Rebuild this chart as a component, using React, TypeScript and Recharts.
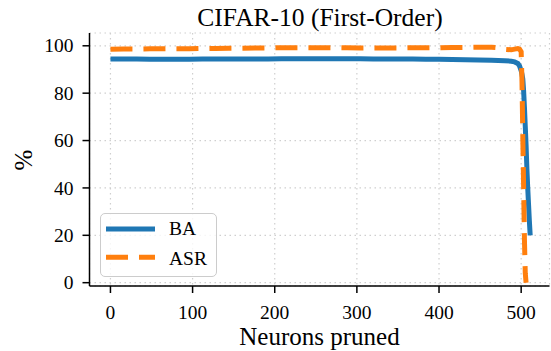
import React from "react";
import { LineChart, Line, XAxis, YAxis, CartesianGrid } from "recharts";

const neurons = [0, 16, 32, 48, 64, 80, 96, 112, 128, 144, 160, 176, 192, 208, 224, 240, 256, 272, 288, 304, 320, 336, 352, 368, 384, 400, 416, 432, 448, 464, 472, 480, 488, 492, 496, 498, 500, 501, 502, 503, 504, 505, 506, 507, 508, 509, 510, 511];
const ba = [94.4, 94.4, 94.4, 94.3, 94.3, 94.3, 94.3, 94.4, 94.4, 94.4, 94.4, 94.4, 94.4, 94.5, 94.5, 94.5, 94.5, 94.5, 94.5, 94.5, 94.4, 94.4, 94.4, 94.4, 94.3, 94.3, 94.2, 94.1, 94.0, 93.9, 93.8, 93.7, 93.5, 93.2, 92.5, 91.5, 89.5, 88, 86, 81, 74, 66, 58, 48, 40, 33, 26, 20];
const asr = [98.5, 98.6, 98.6, 98.7, 98.7, 98.8, 98.8, 98.9, 98.9, 99.0, 99.0, 99.1, 99.1, 99.2, 99.2, 99.2, 99.2, 99.2, 99.2, 99.1, 99.1, 99.1, 99.1, 99.2, 99.2, 99.2, 99.3, 99.3, 99.4, 99.4, 99.2, 98.5, 98.3, 98.6, 98.8, 98.6, 97.5, 85, 62, 40, 18, 4, 0, null, null, null, null, null];
const xTicks = [0, 100, 200, 300, 400, 500];
const yTicks = [0, 20, 40, 60, 80, 100];
const seriesNames = ["BA", "ASR"];
const colors = ["#1f77b4", "#ff7f0e"];
const title = "CIFAR-10 (First-Order)";
const xLabel = "Neurons pruned";
const yLabel = "%";

const data = neurons.map((n, i) => ({ n, ba: ba[i], asr: asr[i] }));

const FONT = "Liberation Serif";

const XTick = (props: any) => {
  const { x, y, payload } = props;
  return (
    <text x={x} y={y + 13.5} textAnchor="middle" fontFamily={FONT} fontSize={19.5} fill="#000">
      {payload.value}
    </text>
  );
};

const YTick = (props: any) => {
  const { x, y, payload } = props;
  return (
    <text x={x} y={y + 6.6} textAnchor="end" fontFamily={FONT} fontSize={19.5} fill="#000">
      {payload.value}
    </text>
  );
};

const LegendBox = () => (
  <div
    style={{
      position: "absolute",
      left: 100,
      top: 213,
      width: 117,
      height: 64,
      border: "1.5px solid #cccccc",
      borderRadius: 5,
      background: "rgba(255,255,255,0.8)",
      boxSizing: "border-box",
    }}
  >
    <svg width={117} height={64} style={{ position: "absolute", left: -1.5, top: -1.5 }}>
      <line x1={6} x2={55} y1={16} y2={16} stroke={colors[0]} strokeWidth={5} />
      <line x1={6} x2={55} y1={44.3} y2={44.3} stroke={colors[1]} strokeWidth={5} strokeDasharray="22 11" />
      <text x={69} y={22} fontFamily={FONT} fontSize={19.5} fill="#000">{seriesNames[0]}</text>
      <text x={69} y={51.5} fontFamily={FONT} fontSize={19.5} fill="#000">{seriesNames[1]}</text>
    </svg>
  </div>
);

export default function App() {
  return (
    <div style={{ position: "absolute", left: 0, top: 0, width: 551, height: 351, background: "#fff" }}>
      <LineChart
        width={551}
        height={351}
        data={data}
        margin={{ top: 33, right: 1.5, left: 0, bottom: 0 }}
      >
        <text x={320} y={26} textAnchor="middle" fontFamily={FONT} fontSize={25.5} fill="#000">
          {title}
        </text>
        <text x={345} y={346} textAnchor="middle" fontFamily={FONT} fontSize={25} fill="#000" style={{ display: "none" }}>
          {""}
        </text>
        <text x={319.5} y={345} textAnchor="middle" fontFamily={FONT} fontSize={25} fill="#000">
          {xLabel}
        </text>
        <text x={32} y={160} textAnchor="middle" fontFamily={FONT} fontSize={25} fill="#000" transform="rotate(-90 32 160)">
          {yLabel}
        </text>
        <CartesianGrid stroke="#cfcfcf" strokeDasharray="1.5 3.5" strokeWidth={1.2} />
        <XAxis
          dataKey="n"
          type="number"
          domain={[-25.5, 534.5]}
          ticks={xTicks}
          allowDataOverflow
          height={65}
          tickSize={7}
          tickMargin={12}
          stroke="#000"
          strokeWidth={1.5}
          tick={<XTick />}
        />
        <XAxis xAxisId="top" orientation="top" dataKey="n" type="number" domain={[-25.5, 534.5]} height={0} tick={false} tickLine={false} stroke="#000" strokeWidth={1.5} />
        <YAxis
          type="number"
          domain={[-1.4, 105.4]}
          ticks={yTicks}
          allowDataOverflow
          width={89.5}
          tickSize={7}
          tickMargin={9}
          stroke="#000"
          strokeWidth={1.5}
          tick={<YTick />}
        />
        <YAxis yAxisId="right" orientation="right" domain={[-1.4, 105.4]} width={0} tick={false} tickLine={false} stroke="#000" strokeWidth={1.5} />
        <Line dataKey="ba" stroke={colors[0]} strokeWidth={5} dot={false} isAnimationActive={false} type="linear" />
        <Line dataKey="asr" stroke={colors[1]} strokeWidth={5} strokeDasharray="22 11" dot={false} isAnimationActive={false} type="linear" connectNulls={false} />
      </LineChart>
      <LegendBox />
    </div>
  );
}
